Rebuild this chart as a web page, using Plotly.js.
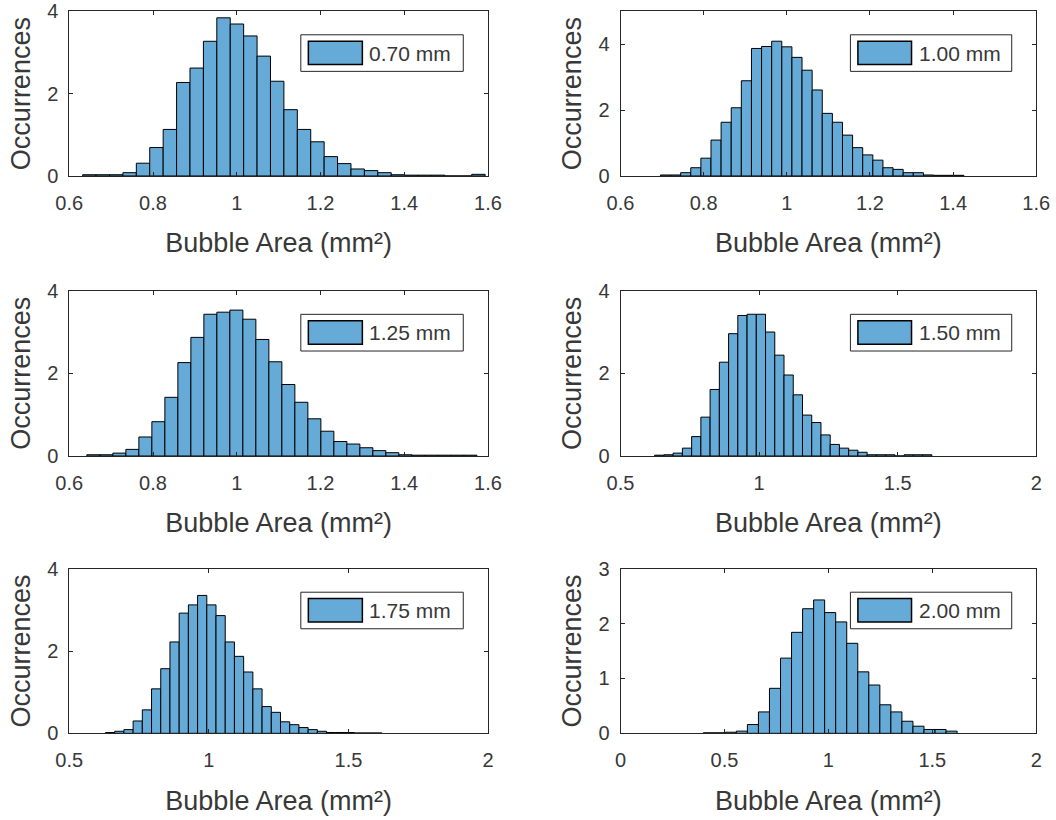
<!DOCTYPE html>
<html><head><meta charset="utf-8">
<script src="https://cdn.plot.ly/plotly-3.0.1.min.js"></script>
<style>html,body{margin:0;padding:0;background:#fff}#chart{width:1056px;height:820px}</style>
</head><body><div id="chart"></div>
<script>
// ---- data ----
const legendLabels = ['0.70 mm', '1.00 mm', '1.25 mm', '1.50 mm', '1.75 mm', '2.00 mm'];
// first bin's left edge and bin width for each histogram (mm^2)
const binStart = [0.632, 0.696, 0.642, 0.6233, 0.6297, 0.398];
const binWidth = [0.03204, 0.02433, 0.03105, 0.03333, 0.0330, 0.0531];

const occ070 = [0.03,0.03,0.03,0.08,0.31,0.69,1.13,2.27,2.62,3.27,3.84,3.69,3.40,2.91,2.30,1.61,1.13,0.83,0.47,0.30,0.17,0.13,0.08,0.03,0.02,0.02,0.02,0,0,0.04];
const occ100 = [0.03,0.03,0.10,0.25,0.54,1.09,1.63,2.07,2.89,3.87,3.93,4.09,3.92,3.60,3.21,2.61,1.90,1.63,1.24,0.86,0.64,0.48,0.25,0.20,0.10,0.10,0.03,0.02,0.02,0.02];
const occ125 = [0.03,0.03,0.07,0.16,0.46,0.83,1.42,2.26,2.87,3.43,3.48,3.53,3.31,2.82,2.28,1.73,1.30,0.90,0.60,0.35,0.29,0.20,0.13,0.08,0.03,0.02,0.02,0.02,0.02,0.02];
const occ150 = [0.02,0.03,0.07,0.19,0.47,0.94,1.61,2.27,2.96,3.40,3.43,3.43,3.00,2.44,1.96,1.48,0.99,0.81,0.51,0.28,0.19,0.14,0.09,0.03,0.03,0.03,0,0.03,0.03,0.03];
const occ175 = [0.02,0.05,0.09,0.30,0.57,1.08,1.57,2.22,2.92,3.12,3.35,3.12,2.86,2.22,1.87,1.49,1.08,0.65,0.51,0.28,0.21,0.14,0.09,0.05,0.02,0.02,0.02,0.01,0.01,0.01];
const occ200 = [0.01,0.01,0.02,0.04,0.16,0.39,0.82,1.37,1.84,2.27,2.43,2.20,2.03,1.64,1.12,0.88,0.52,0.39,0.22,0.13,0.07,0.07,0.04];

const xRanges = [[0.6,1.6],[0.6,1.6],[0.6,1.6],[0.5,2],[0.5,2],[0,2]];
const xTickVals = [[0.6,0.8,1,1.2,1.4,1.6],[0.6,0.8,1,1.2,1.4,1.6],[0.6,0.8,1,1.2,1.4,1.6],[0.5,1,1.5,2],[0.5,1,1.5,2],[0,0.5,1,1.5,2]];
const yRanges = [[0,4],[0,5],[0,4],[0,4],[0,4],[0,3]];
const yTickVals = [[0,2,4],[0,2,4],[0,2,4],[0,2,4],[0,2,4],[0,1,2,3]];
const xTitle = 'Bubble Area (mm²)';
const yTitle = 'Occurrences';

const series = [occ070, occ100, occ125, occ150, occ175, occ200];

// ---- layout geometry ----
const FONT = 'Liberation Sans, Arial, Helvetica, sans-serif';
const TXT = '#383838';
const AX = '#262626';
const BAR = '#66AAD7';
const colDom = [[0.0656, 0.4621], [0.5876, 0.9813]];
const rowDom = [[0.7854, 0.9863], [0.4439, 0.6455], [0.1057, 0.3065]];

const traces = [];
const layout = {
  width: 1056, height: 820,
  margin: {l: 0, r: 0, t: 0, b: 0},
  paper_bgcolor: '#fff', plot_bgcolor: '#fff',
  showlegend: false, bargap: 0,
  font: {family: FONT, color: TXT},
  shapes: [], annotations: []
};

series.forEach((vals, i) => {
  const n = i + 1;
  const sfx = n === 1 ? '' : String(n);
  const centers = vals.map((_, k) => binStart[i] + (k + 0.5) * binWidth[i]);
  traces.push({
    type: 'bar', x: centers, y: vals, width: binWidth[i],
    name: legendLabels[i],
    xaxis: 'x' + sfx, yaxis: 'y' + sfx,
    marker: {color: BAR, line: {color: '#000', width: 1}},
    hoverinfo: 'x+y'
  });
  const col = i % 2, row = Math.floor(i / 2);
  const common = {
    showline: true, mirror: 'ticks', linecolor: AX, linewidth: 1,
    ticks: 'inside', ticklen: 4, tickcolor: AX, tickwidth: 1,
    showgrid: false, zeroline: false, fixedrange: true, automargin: false,
    tickfont: {family: FONT, size: 20, color: TXT}
  };
  layout['xaxis' + sfx] = Object.assign({}, common, {
    domain: colDom[col], anchor: 'y' + sfx, range: xRanges[i],
    tickmode: 'array', tickvals: xTickVals[i], ticklabelstandoff: 9,
    title: {text: xTitle, font: {family: FONT, size: 27, color: TXT}, standoff: 20}
  });
  layout['yaxis' + sfx] = Object.assign({}, common, {
    domain: rowDom[row], anchor: 'x' + sfx, range: yRanges[i],
    tickmode: 'array', tickvals: yTickVals[i], ticklabelstandoff: 6,
    title: {text: yTitle, font: {family: FONT, size: 27, color: TXT}, standoff: 8}
  });
  // legend box drawn inside each panel
  const xr = 'x' + sfx + ' domain', yr = 'y' + sfx + ' domain';
  layout.shapes.push({type: 'rect', xref: xr, yref: yr, x0: 0.553, x1: 0.941, y0: 0.635, y1: 0.857,
    fillcolor: '#fff', line: {color: AX, width: 1}, layer: 'above'});
  layout.shapes.push({type: 'rect', xref: xr, yref: yr, x0: 0.571, x1: 0.700, y0: 0.676, y1: 0.8185,
    fillcolor: BAR, line: {color: '#000', width: 1.5}, layer: 'above'});
  layout.annotations.push({xref: xr, yref: yr, x: 0.712, y: 0.745, xanchor: 'left', yanchor: 'middle',
    text: legendLabels[i], showarrow: false, font: {family: FONT, size: 21, color: TXT}});
});

Plotly.newPlot('chart', traces, layout, {staticPlot: true, displayModeBar: false});
</script>
</body></html>
